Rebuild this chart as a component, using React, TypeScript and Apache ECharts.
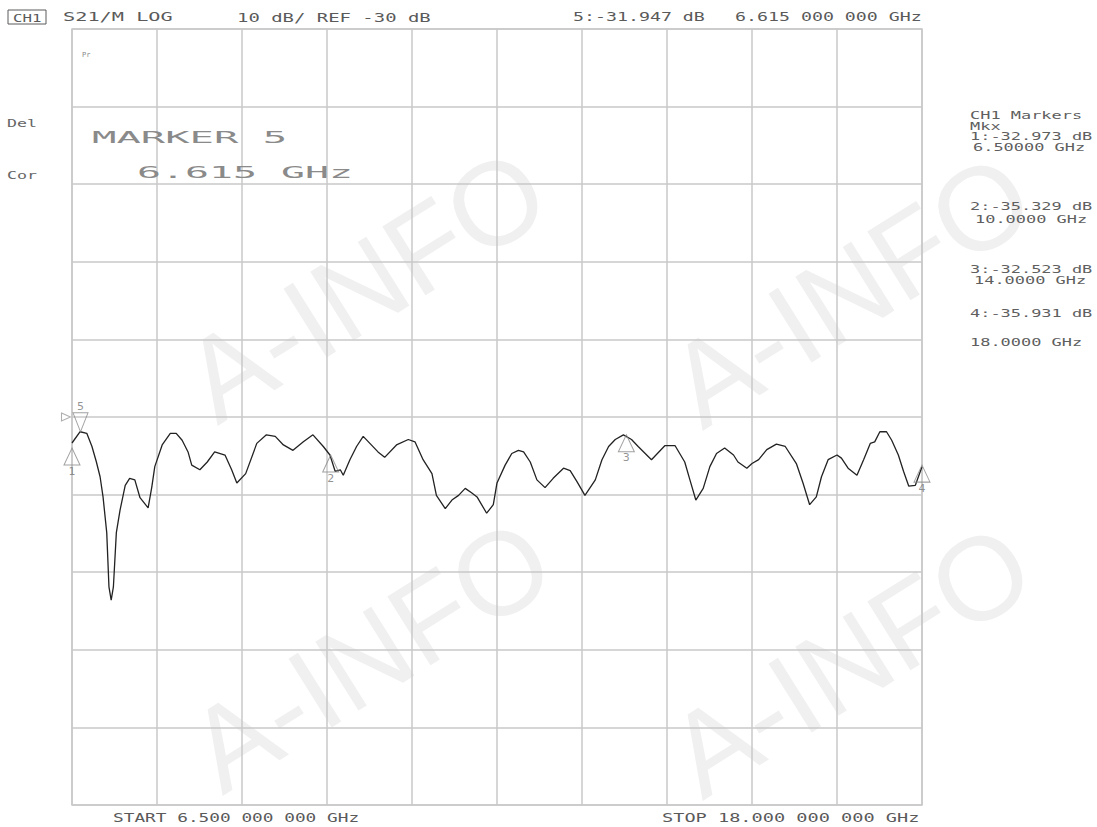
import React, { useEffect, useRef } from "react";
import * as echarts from "echarts";

// ---- Data ----
const FREQ_GHZ = [
  6.50, 6.61, 6.70, 6.77, 6.83, 6.88, 6.92, 6.97, 7.00, 7.03,
  7.06, 7.10, 7.15, 7.22, 7.28, 7.35, 7.42, 7.53, 7.58, 7.62,
  7.72, 7.83, 7.91, 7.99, 8.07, 8.12, 8.23, 8.33, 8.43, 8.57,
  8.66, 8.73, 8.85, 9.00, 9.13, 9.25, 9.36, 9.49, 9.63, 9.76,
  9.90, 9.99, 10.06, 10.13, 10.17, 10.26, 10.35, 10.44, 10.53, 10.64,
  10.73, 10.89, 11.05, 11.14, 11.25, 11.37, 11.43, 11.55, 11.64, 11.73,
  11.82, 11.91, 11.98, 12.11, 12.20, 12.25, 12.36, 12.45, 12.54, 12.61,
  12.70, 12.79, 12.90, 13.01, 13.15, 13.24, 13.33, 13.44, 13.58, 13.67,
  13.76, 13.85, 13.96, 14.07, 14.16, 14.34, 14.52, 14.66, 14.79, 14.86,
  14.94, 15.04, 15.13, 15.22, 15.33, 15.45, 15.51, 15.63, 15.70, 15.79,
  15.90, 16.03, 16.15, 16.30, 16.39, 16.48, 16.57, 16.64, 16.73, 16.85,
  16.91, 17.00, 17.12, 17.21, 17.30, 17.36, 17.43, 17.52, 17.59, 17.68,
  17.75, 17.82, 17.91, 18.00,
];
const S21_DB = [
  -33.35, -31.9, -32.1, -33.8, -35.8, -37.7, -40.3, -44.9, -51.9, -53.6,
  -51.9, -44.9, -42.0, -38.8, -37.9, -38.1, -40.4, -41.7, -39.0, -36.4,
  -33.6, -32.1, -32.1, -33.0, -34.5, -36.2, -36.8, -35.8, -34.5, -34.9,
  -36.8, -38.5, -37.3, -33.4, -32.3, -32.5, -33.6, -34.3, -33.2, -32.3,
  -33.8, -34.9, -37.0, -36.8, -37.5, -35.5, -33.8, -32.5, -33.4, -34.5,
  -35.2, -33.6, -32.9, -33.2, -35.5, -37.3, -40.1, -41.8, -40.7, -40.1,
  -39.2, -39.8, -40.3, -42.4, -41.3, -38.5, -36.2, -34.7, -34.3, -34.5,
  -35.8, -38.1, -39.1, -37.9, -36.6, -36.9, -38.3, -40.1, -38.1, -35.5,
  -33.8, -32.9, -32.3, -32.9, -33.8, -35.5, -33.7, -33.7, -35.8, -38.1,
  -40.7, -39.2, -36.4, -34.7, -34.0, -34.9, -35.8, -36.6, -36.0, -35.5,
  -34.2, -33.5, -33.8, -36.0, -38.5, -41.3, -40.3, -37.7, -35.5, -34.9,
  -35.3, -36.6, -37.5, -35.5, -33.4, -33.2, -31.9, -31.9, -33.0, -34.9,
  -37.0, -38.9, -38.8, -36.4,
];

const MARKER_NAMES = ["1", "2", "3", "4"];
const MARKER_FREQ = [6.5, 10.0, 14.0, 18.0];
const MARKER_DB = [-34.0, -34.9, -32.3, -36.2];
const ACTIVE_MARKER_NAME = "5";
const ACTIVE_MARKER_FREQ = 6.615;
const ACTIVE_MARKER_DB = -31.9;

const START_GHZ = 6.5;
const STOP_GHZ = 18.0;
const REF_DB = -30;
const SCALE_DB_PER_DIV = 10;
const DIVISIONS = 10;

const HEADER_TEXTS = ["CH1", "S21/M LOG", "10 dB/ REF -30 dB", "5:-31.947 dB", "6.615 000 000 GHz"];
const SIDE_TEXTS = ["Del", "Cor"];
const ANNOTATION_TEXTS = ["MARKER 5", "6.615 GHz"];
const READOUT_TEXTS = [
  "CH1 Markers", "Mkx",
  "1:-32.973 dB", "6.50000 GHz",
  "2:-35.329 dB", "10.0000 GHz",
  "3:-32.523 dB", "14.0000 GHz",
  "4:-35.931 dB", "18.0000 GHz",
];
const FOOTER_TEXTS = ["START 6.500 000 000 GHz", "STOP 18.000 000 000 GHz"];
const WATERMARK = "A-INFO";

const MONO = "DejaVu Sans Mono";

function txt(text: string, x: number, y: number, pitch: number, size: number, fill: string) {
  return {
    type: "text",
    x,
    y,
    scaleX: pitch / (0.602 * size),
    z: 10,
    silent: true,
    style: {
      text,
      fontFamily: MONO,
      fontSize: size,
      fill,
      align: "left",
      verticalAlign: "middle",
    },
  };
}

export default function App() {
  const ref = useRef<HTMLDivElement>(null);

  useEffect(() => {
    if (!ref.current) return;
    const chart = echarts.init(ref.current, undefined, { renderer: "svg" });

    const trace = FREQ_GHZ.map((f, i) => [f, S21_DB[i]]);
    const markers = MARKER_FREQ.map((f, i) => ({ name: MARKER_NAMES[i], value: [f, MARKER_DB[i]] }));

    const headCol = "#5a5a5a";
    const graphics: any[] = [];

    // watermarks (kept fully inside the picture)
    const wmCenters = [
      [365, 285], [850, 290],
      [370, 655], [850, 660],
    ];
    wmCenters.forEach(([cx, cy]) => {
      graphics.push({
        type: "text",
        x: cx,
        y: cy,
        rotation: 0.56,
        z: -10,
        silent: true,
        style: {
          text: WATERMARK,
          fontFamily: "Liberation Sans",
          fontSize: 118,
          fill: "#f0f0f0",
          align: "center",
          verticalAlign: "middle",
        },
      });
    });

    // header
    graphics.push({
      type: "rect",
      shape: { x: 8, y: 10, width: 38, height: 14 },
      style: { fill: "none", stroke: headCol, lineWidth: 1 },
      z: 10,
      silent: true,
    });
    graphics.push(txt(HEADER_TEXTS[0], 13, 17.5, 9.5, 11, headCol));
    graphics.push(txt(HEADER_TEXTS[1], 63, 17.5, 12.2, 12, headCol));
    graphics.push(txt(HEADER_TEXTS[2], 237, 17.5, 11.4, 12, headCol));
    graphics.push(txt(HEADER_TEXTS[3], 573, 17.5, 11, 12, headCol));
    graphics.push(txt(HEADER_TEXTS[4], 735, 17.5, 11, 12, headCol));

    // side labels
    graphics.push(txt(SIDE_TEXTS[0], 7, 123, 10, 11, "#666"));
    graphics.push(txt(SIDE_TEXTS[1], 7, 175, 10, 11, "#666"));

    // tiny annotation
    graphics.push({
      type: "text", x: 82, y: 55, z: 10, silent: true,
      style: { text: "Pr", fontFamily: MONO, fontSize: 7, fill: "#888", verticalAlign: "middle" },
    });

    // big marker annotation
    graphics.push(txt(ANNOTATION_TEXTS[0], 92, 137, 24.4, 16, "#8a8a8a"));
    graphics.push(txt(ANNOTATION_TEXTS[1], 137, 172, 24, 16, "#8a8a8a"));

    // right panel readouts
    const readX = [970, 970, 970, 973, 970, 975, 970, 974, 970, 970];
    const readY = [115, 126, 136, 147, 206, 219, 269, 280, 313, 342];
    READOUT_TEXTS.forEach((t, i) => {
      graphics.push(txt(t, readX[i], readY[i], 10.2, 10.5, "#5f5f5f"));
    });

    // footer
    graphics.push(txt(FOOTER_TEXTS[0], 113, 818, 10.7, 11.5, headCol));
    graphics.push(txt(FOOTER_TEXTS[1], 662, 818, 11.2, 11.5, headCol));

    const gridCol = "#c8c8c8";

    chart.setOption({
      animation: false,
      backgroundColor: "#ffffff",
      grid: {
        left: 72,
        top: 29,
        width: 850,
        height: 776,
        show: true,
        borderColor: gridCol,
        borderWidth: 1.5,
        backgroundColor: "transparent",
      },
      xAxis: [
        {
          type: "value",
          min: START_GHZ,
          max: STOP_GHZ,
          show: false,
          splitLine: { show: false },
        },
        {
          type: "value",
          min: 0,
          max: DIVISIONS,
          interval: 1,
          axisLine: { show: false },
          axisTick: { show: false },
          axisLabel: { show: false },
          splitLine: { show: true, lineStyle: { color: gridCol, width: 1.5 } },
        },
      ],
      yAxis: {
        type: "value",
        min: REF_DB - (SCALE_DB_PER_DIV * DIVISIONS) / 2,
        max: REF_DB + (SCALE_DB_PER_DIV * DIVISIONS) / 2,
        interval: SCALE_DB_PER_DIV,
        axisLine: { show: false },
        axisTick: { show: false },
        axisLabel: { show: false },
        splitLine: { show: true, lineStyle: { color: gridCol, width: 1.5 } },
      },
      graphic: graphics,
      series: [
        {
          type: "line",
          xAxisIndex: 0,
          data: trace,
          showSymbol: false,
          silent: true,
          z: 3,
          lineStyle: { color: "#222222", width: 1.3 },
        },
        {
          type: "scatter",
          xAxisIndex: 0,
          data: markers,
          symbol: "triangle",
          symbolSize: [16, 17],
          symbolOffset: [0, 8.5],
          z: 4,
          silent: true,
          itemStyle: { color: "rgba(0,0,0,0)", borderColor: "#8a8a8a", borderWidth: 1 },
          label: {
            show: true,
            formatter: "{b}",
            position: "bottom",
            distance: 0,
            color: "#777",
            fontSize: 11,
            fontFamily: "DejaVu Sans",
          },
        },
        {
          type: "scatter",
          xAxisIndex: 0,
          data: [{ name: ACTIVE_MARKER_NAME, value: [ACTIVE_MARKER_FREQ, ACTIVE_MARKER_DB] }],
          symbol: "path://M0,0 L16,0 L8,19 Z",
          symbolSize: [15, 19],
          symbolOffset: [0, -9.5],
          z: 4,
          silent: true,
          itemStyle: { color: "rgba(0,0,0,0)", borderColor: "#8a8a8a", borderWidth: 1 },
          label: {
            show: true,
            formatter: "{b}",
            position: "top",
            distance: 0,
            color: "#777",
            fontSize: 11,
            fontFamily: "DejaVu Sans",
          },
        },
        {
          type: "scatter",
          xAxisIndex: 0,
          data: [[START_GHZ, REF_DB]],
          symbol: "path://M0,0 L10,4 L0,8 Z",
          symbolSize: [9, 8],
          symbolOffset: [-6, 0],
          z: 4,
          silent: true,
          itemStyle: { color: "rgba(0,0,0,0)", borderColor: "#9a9a9a", borderWidth: 1 },
        },
      ],
    });

    return () => {
      chart.dispose();
    };
  }, []);

  return (
    <div
      ref={ref}
      style={{ position: "fixed", left: 0, top: 0, width: 1097, height: 827, background: "#fff" }}
    />
  );
}
